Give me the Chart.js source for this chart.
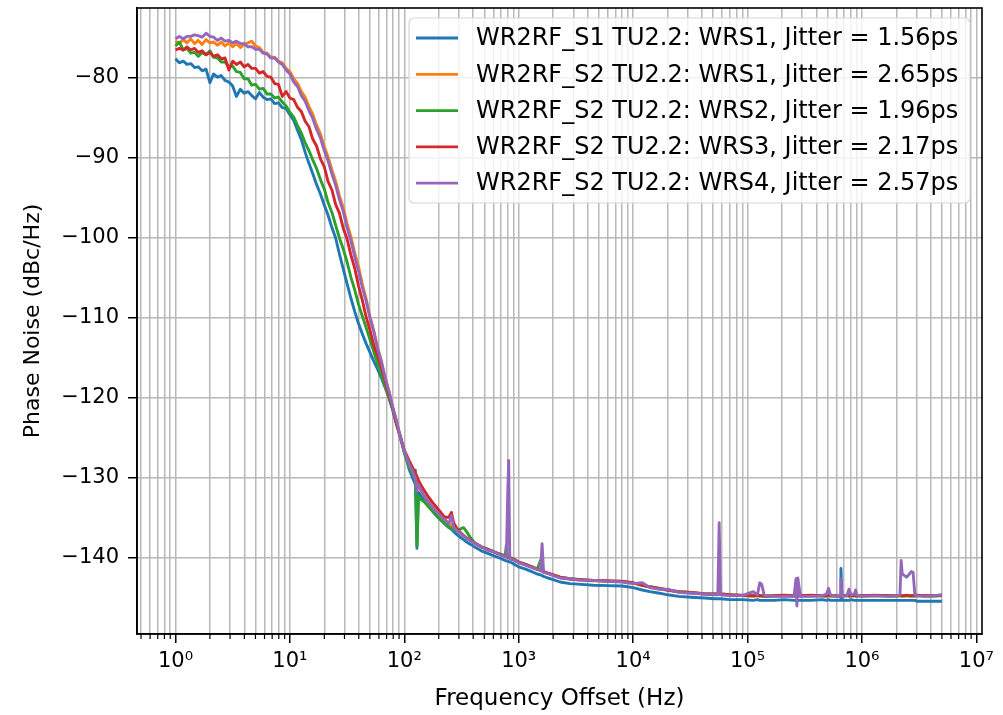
<!DOCTYPE html>
<html><head><meta charset="utf-8">
<script src="https://cdn.jsdelivr.net/npm/chart.js@4.4.1/dist/chart.umd.min.js"></script>
<style>html,body{margin:0;padding:0;background:#fff;}canvas{display:block;}</style>
</head><body>
<canvas id="c" width="1003" height="715"></canvas>
<script>
// ---------- DATA ----------
const freqLow = [1.00,1.08,1.17,1.26,1.36,1.47,1.58,1.71,1.85,2.00,2.15,2.33,2.51,2.71,2.93,3.16,3.41,3.69,3.98,4.30,4.64,5.01,5.41,5.84,6.31,6.81,7.36,7.94,8.58,9.26,10.0,10.8,11.7,12.6,13.6,14.7,15.8,17.1,18.5,20.0,21.5,23.3,25.1,27.1,29.3,31.6,34.1,36.9,39.8,43.0,46.4,50.1,54.1,58.4,63.1,68.1,73.6,79.4,85.8,92.6,100];
const freqHigh = [110,120,125,129,133,140,150,165,180,200,
225,245,258,270,290,315,330,350,380,420,
470,530,600,680,760,780,800,817,835,870,
920,1000,1150,1300,1450,1550,1600,1650,1800,2000,
2300,2800,3500,4500,6000,8000,10000,12000,14000,17000,
20000,25000,32000,42000,52000,55000,56500,58000,70000,90000,
112000,122000,128000,133000,140000,170000,210000,255000,265000,270000,
275000,290000,360000,450000,490000,510000,530000,580000,630000,648000,
655000,670000,740000,770000,800000,860000,880000,900000,1000000,1300000,
1700000,2050000,2150000,2200000,2250000,2350000,2450000,2600000,2700000,2800000,
2900000,3000000,3600000,4300000,5000000];

const seriesNames = [
  'WR2RF_S1 TU2.2: WRS1, Jitter = 1.56ps',
  'WR2RF_S2 TU2.2: WRS1, Jitter = 2.65ps',
  'WR2RF_S2 TU2.2: WRS2, Jitter = 1.96ps',
  'WR2RF_S2 TU2.2: WRS3, Jitter = 2.17ps',
  'WR2RF_S2 TU2.2: WRS4, Jitter = 2.57ps'
];

const s1Low = [-77.6,-78.1,-77.9,-78.3,-78.2,-78.7,-78.6,-79.1,-78.9,-80.6,-79.5,-79.9,-79.7,-80.3,-80.5,-81.0,-82.3,-81.4,-81.9,-81.7,-82.2,-82.6,-81.8,-82.4,-82.7,-82.6,-83.2,-83.1,-83.7,-83.8,-84.6,-85.3,-86.6,-87.7,-89.3,-90.7,-91.9,-93.3,-94.5,-95.9,-97.1,-98.7,-100.0,-102.0,-103.9,-105.7,-107.5,-109.2,-110.7,-112.0,-113.2,-114.3,-115.4,-116.4,-117.5,-118.7,-120.0,-121.6,-123.3,-125.0,-126.6];
const s1High = [-128.9,-130.2,-130.8,-138.8,-131.8,-132.2,-132.8,-133.6,-134.3,-135.0,
-135.7,-136.2,-136.4,-136.7,-137.1,-137.5,-137.7,-138.0,-138.3,-138.7,
-139.1,-139.4,-139.7,-140.0,-140.3,-140.35,-140.4,-140.45,-140.5,-140.6,
-140.8,-141.1,-141.4,-141.7,-142.0,-142.1,-142.2,-142.3,-142.5,-142.7,
-143.0,-143.2,-143.3,-143.4,-143.45,-143.5,-143.7,-144.0,-144.2,-144.4,
-144.6,-144.8,-144.9,-145.0,-145.1,-145.1,-145.1,-145.1,-145.2,-145.2,
-145.3,-145.2,-145.3,-145.3,-145.3,-145.3,-145.2,-145.3,-145.3,-145.4,
-145.3,-145.3,-145.3,-145.2,-145.3,-145.2,-145.3,-145.3,-145.3,-145.3,
-141.3,-145.3,-145.3,-145.3,-145.2,-145.3,-145.3,-145.3,-145.3,-145.3,
-145.3,-145.3,-145.3,-145.3,-145.3,-145.3,-145.3,-145.3,-145.3,-145.3,
-145.3,-145.4,-145.4,-145.4,-145.4];

const s2Low = [-75.4,-75.7,-75.2,-75.6,-75.1,-75.7,-75.3,-75.8,-75.2,-75.6,-75.5,-75.9,-75.5,-76.0,-75.6,-76.1,-75.7,-76.2,-75.8,-75.6,-75.4,-76.0,-76.2,-76.8,-76.9,-77.4,-77.4,-77.9,-78.1,-78.8,-79.2,-80.1,-80.7,-81.7,-82.4,-83.6,-84.5,-85.9,-87.0,-88.6,-89.8,-91.5,-92.9,-94.7,-96.2,-98.2,-99.8,-101.9,-103.6,-105.8,-107.6,-109.8,-111.6,-113.7,-115.4,-117.5,-119.2,-121.3,-123.0,-125.1,-126.7];
const s2High = [-128.2,-129.5,-130.1,-130.6,-131.0,-131.6,-132.3,-133.1,-133.8,-134.5,
-135.2,-135.7,-135.9,-136.2,-136.6,-137.0,-137.2,-137.5,-137.8,-138.2,
-138.6,-138.9,-139.2,-139.5,-139.8,-139.85,-139.9,-139.95,-140.0,-140.1,
-140.3,-140.55,-140.85,-141.15,-141.45,-141.55,-141.65,-141.75,-141.95,-142.15,
-142.45,-142.65,-142.75,-142.85,-142.9,-142.95,-143.15,-143.45,-143.65,-143.85,
-144.05,-144.25,-144.35,-144.5,-144.55,-144.55,-144.55,-144.55,-144.65,-144.7,
-144.75,-144.7,-144.75,-144.75,-144.8,-144.75,-144.7,-144.75,-144.75,-144.8,
-144.75,-144.75,-144.7,-144.75,-144.75,-144.7,-144.75,-144.75,-144.8,-144.75,
-144.75,-144.75,-144.7,-144.75,-144.75,-144.7,-144.75,-144.75,-144.75,-144.7,
-144.75,-144.75,-144.7,-144.75,-144.75,-144.75,-144.7,-144.75,-144.75,-144.75,
-144.75,-144.7,-144.75,-144.75,-144.7];

const s3Low = [-76.0,-75.5,-76.5,-76.3,-76.9,-76.8,-77.3,-76.8,-77.1,-76.6,-77.4,-77.5,-78.0,-78.0,-78.6,-78.5,-79.2,-79.3,-80.1,-80.1,-80.9,-80.8,-81.4,-81.3,-82.0,-82.0,-82.5,-82.4,-83.0,-83.5,-84.3,-84.9,-86.0,-86.9,-88.1,-89.1,-90.2,-91.3,-92.7,-93.9,-95.5,-96.8,-98.4,-100.0,-101.4,-103.0,-104.9,-106.5,-108.3,-109.8,-111.2,-112.7,-114.2,-115.7,-117.2,-118.5,-120.0,-121.4,-123.4,-124.8,-126.9];
const s3High = [-128.6,-129.7,-129.0,-138.5,-132.3,-132.7,-133.0,-133.7,-134.3,-135.0,
-135.7,-136.1,-136.3,-136.5,-136.6,-136.3,-136.2,-136.7,-137.5,-138.2,
-138.6,-138.9,-139.2,-139.5,-139.7,-138.4,-139.8,-139.9,-140.0,-140.0,
-140.2,-140.5,-140.8,-141.1,-141.4,-140.3,-141.6,-141.7,-141.9,-142.1,
-142.4,-142.6,-142.7,-142.8,-142.9,-142.95,-143.1,-143.4,-143.6,-143.8,
-144.0,-144.2,-144.3,-144.5,-144.5,-144.5,-144.5,-144.5,-144.6,-144.7,
-144.75,-144.7,-144.75,-144.75,-144.8,-144.75,-144.7,-144.75,-144.75,-144.75,
-144.75,-144.75,-144.7,-144.75,-144.75,-144.7,-144.75,-144.75,-144.8,-144.75,
-144.75,-144.75,-144.7,-144.75,-144.75,-144.7,-144.75,-144.75,-144.75,-144.7,
-144.75,-144.75,-144.7,-144.75,-144.75,-144.75,-144.7,-144.75,-144.75,-144.75,
-144.75,-144.7,-144.75,-144.75,-144.7];

const s4Low = [-76.5,-76.3,-76.5,-76.1,-76.5,-76.3,-76.8,-76.6,-77.1,-76.8,-77.3,-77.1,-77.6,-77.5,-79.0,-77.9,-78.3,-78.0,-78.6,-78.3,-78.8,-78.8,-79.4,-79.2,-79.8,-79.9,-80.7,-80.8,-82.3,-81.7,-82.5,-82.7,-83.7,-84.2,-85.4,-86.1,-87.6,-88.5,-90.1,-91.1,-92.9,-94.0,-95.8,-96.9,-98.8,-100.1,-102.1,-103.8,-106.0,-107.8,-109.9,-111.5,-113.4,-114.7,-116.2,-117.9,-119.7,-121.3,-123.3,-124.9,-126.5];
const s4High = [-127.8,-128.9,-129.4,-129.8,-130.3,-130.9,-131.6,-132.5,-133.2,-134.0,
-134.9,-134.9,-134.3,-135.6,-136.4,-136.9,-137.2,-137.5,-137.8,-138.2,
-138.6,-138.9,-139.2,-139.5,-139.8,-139.85,-139.9,-139.95,-140.0,-140.1,
-140.25,-140.5,-140.8,-141.1,-141.4,-141.5,-141.6,-141.7,-141.9,-142.1,
-142.4,-142.6,-142.7,-142.8,-142.85,-142.9,-143.1,-143.4,-143.6,-143.8,
-144.0,-144.2,-144.3,-144.45,-144.5,-144.5,-144.5,-144.5,-144.6,-144.65,
-144.7,-144.65,-144.7,-144.7,-144.75,-144.7,-144.65,-144.7,-144.7,-144.7,
-144.7,-144.7,-144.65,-144.7,-144.7,-144.65,-144.7,-144.7,-144.75,-144.7,
-144.7,-144.7,-144.65,-144.7,-144.7,-144.65,-144.7,-144.7,-144.7,-144.65,
-144.7,-144.7,-144.65,-144.7,-144.7,-144.7,-144.65,-144.7,-144.7,-144.7,
-144.7,-144.65,-144.7,-144.7,-144.65];

const s5Low = [-75.1,-74.8,-75.1,-74.8,-74.8,-74.6,-74.7,-74.9,-74.4,-74.8,-74.9,-75.3,-75.0,-75.4,-75.3,-75.6,-75.4,-75.7,-75.7,-76.1,-76.1,-76.4,-76.4,-76.9,-77.0,-77.5,-77.5,-78.0,-78.3,-79.0,-79.5,-80.5,-81.1,-82.2,-82.9,-84.1,-85.0,-86.4,-87.5,-89.1,-90.3,-92.0,-93.4,-95.2,-96.7,-98.7,-100.3,-102.4,-104.1,-106.2,-107.9,-110.0,-111.7,-113.8,-115.5,-117.5,-119.2,-121.2,-122.9,-125.0,-126.6];
const s5High = [-128.2,-129.4,-130.0,-131.6,-130.8,-131.5,-132.3,-133.1,-133.8,-134.5,
-135.2,-135.7,-134.7,-136.2,-136.6,-137.0,-137.2,-137.5,-137.9,-138.2,
-138.6,-139.0,-139.2,-139.6,-139.8,-139.9,-132.4,-127.8,-140.1,-140.2,
-140.3,-140.6,-140.9,-141.2,-141.4,-141.6,-138.2,-141.8,-141.9,-142.2,
-142.5,-142.6,-142.8,-142.8,-142.9,-143.0,-143.2,-143.1,-143.7,-143.9,
-143.9,-144.3,-144.4,-144.5,-144.6,-144.6,-135.6,-144.6,-144.7,-144.7,
-144.2,-144.6,-143.1,-143.3,-144.7,-144.8,-144.8,-144.8,-142.6,-146.0,
-142.5,-144.8,-144.8,-144.7,-144.5,-143.8,-144.6,-144.8,-144.8,-144.8,
-142.6,-144.8,-144.7,-143.9,-144.6,-144.5,-144.0,-144.6,-144.8,-144.7,
-144.8,-144.7,-144.6,-140.3,-142.0,-142.2,-142.4,-142.0,-141.7,-141.8,
-144.6,-144.7,-144.8,-144.7,-144.6];

const seriesColors = ['#1f77b4','#ff7f0e','#2ca02c','#d62728','#9467bd'];
const yTickValues = [-140,-130,-120,-110,-100,-90,-80];
const xDecades = [1,10,100,1000,10000,100000,1000000,10000000];
const xDecadeLabels = ['10\u2070','10\u00B9','10\u00B2','10\u00B3','10\u2074','10\u2075','10\u2076','10\u2077'];
const xTitle = 'Frequency Offset (Hz)';
const yTitle = 'Phase Noise (dBc/Hz)';

// ---------- BUILD ----------
const FONT = "'DejaVu Sans', sans-serif";
const freq = freqLow.concat(freqHigh);
const seriesValues = [s1Low.concat(s1High), s2Low.concat(s2High), s3Low.concat(s3High), s4Low.concat(s4High), s5Low.concat(s5High)];
const X_MIN = 0.461, X_MAX = 1.12e7;

function isDecade(v){ const l = Math.log10(v); return Math.abs(l - Math.round(l)) < 1e-6; }
const xTickValues = [];
[0.1].concat(xDecades).forEach(d => { for (let m = 1; m <= 9; m++) { const v = d * m; if (v >= X_MIN && v <= X_MAX) xTickValues.push(v); } });

const bgPlugin = {
  id: 'bg',
  beforeDraw(chart){ const c = chart.ctx; c.save(); c.fillStyle = '#fff'; c.fillRect(0,0,chart.width,chart.height); c.restore(); }
};

const legendPlugin = {
  id: 'mplLegend',
  afterDatasetsDraw(chart){
    const ctx = chart.ctx, a = chart.chartArea;
    const w = 561, h = 185;
    const x0 = a.right - 12 - w, y0 = a.top + 10, r = 5;
    ctx.save();
    ctx.beginPath();
    ctx.moveTo(x0 + r, y0); ctx.lineTo(x0 + w - r, y0); ctx.arcTo(x0 + w, y0, x0 + w, y0 + r, r);
    ctx.lineTo(x0 + w, y0 + h - r); ctx.arcTo(x0 + w, y0 + h, x0 + w - r, y0 + h, r);
    ctx.lineTo(x0 + r, y0 + h); ctx.arcTo(x0, y0 + h, x0, y0 + h - r, r);
    ctx.lineTo(x0, y0 + r); ctx.arcTo(x0, y0, x0 + r, y0, r); ctx.closePath();
    ctx.fillStyle = 'rgba(255,255,255,0.8)'; ctx.fill();
    ctx.strokeStyle = '#d6d6d6'; ctx.lineWidth = 1.2; ctx.stroke();
    ctx.font = '24px ' + FONT; ctx.textBaseline = 'middle'; ctx.textAlign = 'left';
    chart.data.datasets.forEach((ds, i) => {
      const yy = y0 + 20 + i * 36.3;
      ctx.strokeStyle = ds.borderColor; ctx.lineWidth = 2.8; ctx.lineCap = 'butt';
      ctx.beginPath(); ctx.moveTo(x0 + 7, yy); ctx.lineTo(x0 + 49, yy); ctx.stroke();
      ctx.fillStyle = '#000'; ctx.fillText(ds.label, x0 + 67, yy + 1);
    });
    ctx.restore();
  }
};

const framePlugin = {
  id: 'frame',
  afterDraw(chart){
    const ctx = chart.ctx, a = chart.chartArea, xs = chart.scales.x;
    ctx.save();
    ctx.strokeStyle = '#000'; ctx.lineWidth = 1.2;
    xs.ticks.forEach(t => {
      if (!isDecade(t.value)) {
        const px = xs.getPixelForValue(t.value);
        ctx.beginPath(); ctx.moveTo(px, a.bottom); ctx.lineTo(px, a.bottom + 5); ctx.stroke();
      }
    });
    ctx.lineWidth = 1.6;
    ctx.strokeRect(a.left, a.top, a.right - a.left, a.bottom - a.top);
    ctx.restore();
  }
};

new Chart(document.getElementById('c').getContext('2d'), {
  type: 'line',
  data: {
    datasets: seriesNames.map((name, i) => ({
      label: name,
      data: freq.map((f, j) => ({x: f, y: seriesValues[i][j]})),
      borderColor: seriesColors[i],
      backgroundColor: seriesColors[i],
      borderWidth: 2.9,
      pointRadius: 0,
      tension: 0,
      fill: false,
      borderJoinStyle: 'round',
      order: seriesNames.length - i
    }))
  },
  options: {
    responsive: false,
    animation: false,
    devicePixelRatio: 1,
    layout: {padding: {left: 0, right: 21, top: 8, bottom: 0}},
    plugins: {legend: {display: false}, tooltip: {enabled: false}},
    scales: {
      x: {
        type: 'logarithmic', min: X_MIN, max: X_MAX,
        afterFit(s){ s.height = 81; s.paddingLeft = 0; s.paddingRight = 0; },
        afterBuildTicks(s){ s.ticks = xTickValues.map(v => ({value: v, major: false})); },
        ticks: {
          autoSkip: false, maxRotation: 0, minRotation: 0, padding: 6, color: '#000',
          font: {family: FONT, size: 21},
          callback: (v) => { if (!isDecade(v)) return ''; const idx = xDecades.findIndex(d => Math.abs(Math.log10(d) - Math.log10(v)) < 1e-6); return idx >= 0 ? xDecadeLabels[idx] : ''; }
        },
        grid: {
          color: '#b8b8b8', lineWidth: 1.5, tickLength: 9, tickWidth: 1.5,
          tickColor: (c) => (c.tick && isDecade(c.tick.value)) ? '#000' : 'rgba(0,0,0,0)'
        },
        border: {display: true, color: '#000', width: 1.6},
        title: {display: true, text: xTitle, color: '#000', font: {family: FONT, size: 23}, padding: {top: 0, bottom: 2}}
      },
      y: {
        type: 'linear', min: -149.5, max: -71.25,
        afterFit(s){ s.width = 137; s.paddingTop = 0; s.paddingBottom = 0; },
        afterBuildTicks(s){ s.ticks = yTickValues.map(v => ({value: v})); },
        ticks: {
          padding: 9, color: '#000', font: {family: FONT, size: 21},
          callback: (v) => (v < 0 ? '\u2212' : '') + Math.abs(v)
        },
        grid: {color: '#b8b8b8', lineWidth: 1.5, tickLength: 9, tickWidth: 1.5, tickColor: '#000'},
        border: {display: true, color: '#000', width: 1.6},
        title: {display: true, text: yTitle, color: '#000', font: {family: FONT, size: 22}, padding: {top: 20, bottom: 0}}
      }
    }
  },
  plugins: [bgPlugin, legendPlugin, framePlugin]
});
</script>
</body></html>
